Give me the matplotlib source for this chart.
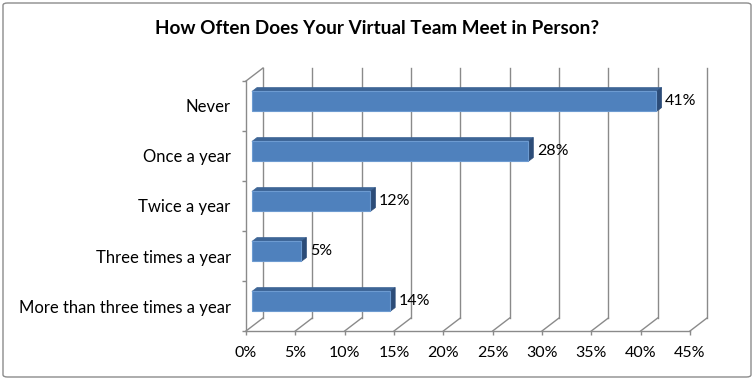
import matplotlib

matplotlib.use("Agg")
import matplotlib.pyplot as plt
from matplotlib.patches import Polygon, FancyBboxPatch


CATEGORIES = [
    "Never",
    "Once a year",
    "Twice a year",
    "Three times a year",
    "More than three times a year",
]
PERCENTS = [41, 28, 12, 5, 14]
X_TICKS = list(range(0, 50, 5))
TITLE = "How Often Does Your Virtual Team Meet in Person?"

GRID = "#8a8a8a"
FRONT = "#4f81bd"
TOP = "#3d6596"
SIDE = "#2c4c78"
EDGE = "#6d9bd1"

plt.rcParams["font.family"] = ["Lato", "DejaVu Sans"]

W, H = 754, 380
fig = plt.figure(figsize=(W / 100, H / 100), dpi=100)

# rounded grey frame around the whole chart
fig.patches.append(FancyBboxPatch(
    (3 / W, 3 / H), 1 - 6 / W, 1 - 6 / H,
    boxstyle="round,pad=0,rounding_size=0.006",
    transform=fig.transFigure, fill=False, edgecolor="#8c8c8c", linewidth=1.0,
))

fig.text(377 / W, 1 - 28 / H, TITLE, ha="center", va="center",
         fontsize=13.6, fontweight="bold", color="black")

# front plane of the plot area: 0..45% wide, 5 category bands tall
ax = fig.add_axes([246 / W, (H - 331) / H, 444 / W, 250 / H])
n = len(CATEGORIES)
ax.set_xlim(0, 45)
ax.set_ylim(n - 0.5, -0.5)
for s in ax.spines.values():
    s.set_visible(False)
ax.patch.set_visible(False)

# depth vector of the 3d box in data units (17px right, 13px up)
DX = 17 * 45 / 444
DY = -13 * n / 250

line_kw = dict(color=GRID, linewidth=1.0, clip_on=False, zorder=1)
y0, y1 = n - 0.5, -0.5
ax.plot([0, 45], [y0, y0], **line_kw)
ax.plot([0, 0], [y0, y1], **line_kw)
ax.plot([0, DX], [y1, y1 + DY], **line_kw)
for x in X_TICKS:
    ax.plot([x, x + DX], [y0, y0 + DY], **line_kw)
    ax.plot([x + DX, x + DX], [y0 + DY, y1 + DY], **line_kw)

ax.set_xticks(X_TICKS)
ax.set_xticklabels([f"{x}%" for x in X_TICKS])
ax.set_yticks(range(n))
ax.set_yticklabels(CATEGORIES)
ax.set_yticks([i - 0.5 for i in range(n + 1)], minor=True)
ax.tick_params(axis="x", length=3, width=1, color=GRID, pad=8, labelsize=11.5)
ax.tick_params(axis="y", which="major", length=0, pad=11, labelsize=12)
ax.tick_params(axis="y", which="minor", length=3, width=1, color=GRID)

# bars sit in the middle of the depth
f1, f2 = 0.35, 0.65
half = 0.2
for i, v in enumerate(PERCENTS):
    top = i - half
    bot = i + half
    front = [(f1 * DX, top + f1 * DY), (v + f1 * DX, top + f1 * DY),
             (v + f1 * DX, bot + f1 * DY), (f1 * DX, bot + f1 * DY)]
    upper = [(f1 * DX, top + f1 * DY), (v + f1 * DX, top + f1 * DY),
             (v + f2 * DX, top + f2 * DY), (f2 * DX, top + f2 * DY)]
    side = [(v + f1 * DX, top + f1 * DY), (v + f2 * DX, top + f2 * DY),
            (v + f2 * DX, bot + f2 * DY), (v + f1 * DX, bot + f1 * DY)]
    ax.add_patch(Polygon(upper, closed=True, facecolor=TOP, edgecolor=TOP,
                         linewidth=0.5, clip_on=False, zorder=3))
    ax.add_patch(Polygon(side, closed=True, facecolor=SIDE, edgecolor=SIDE,
                         linewidth=0.5, clip_on=False, zorder=3))
    ax.add_patch(Polygon(front, closed=True, facecolor=FRONT, edgecolor=EDGE,
                         linewidth=0.8, clip_on=False, zorder=4))
    ax.text(v + f2 * DX + 0.35, i + f1 * DY, f"{v}%", ha="left", va="center",
            fontsize=11.5, color="black", zorder=5)

fig.savefig("out.png", dpi=100)
